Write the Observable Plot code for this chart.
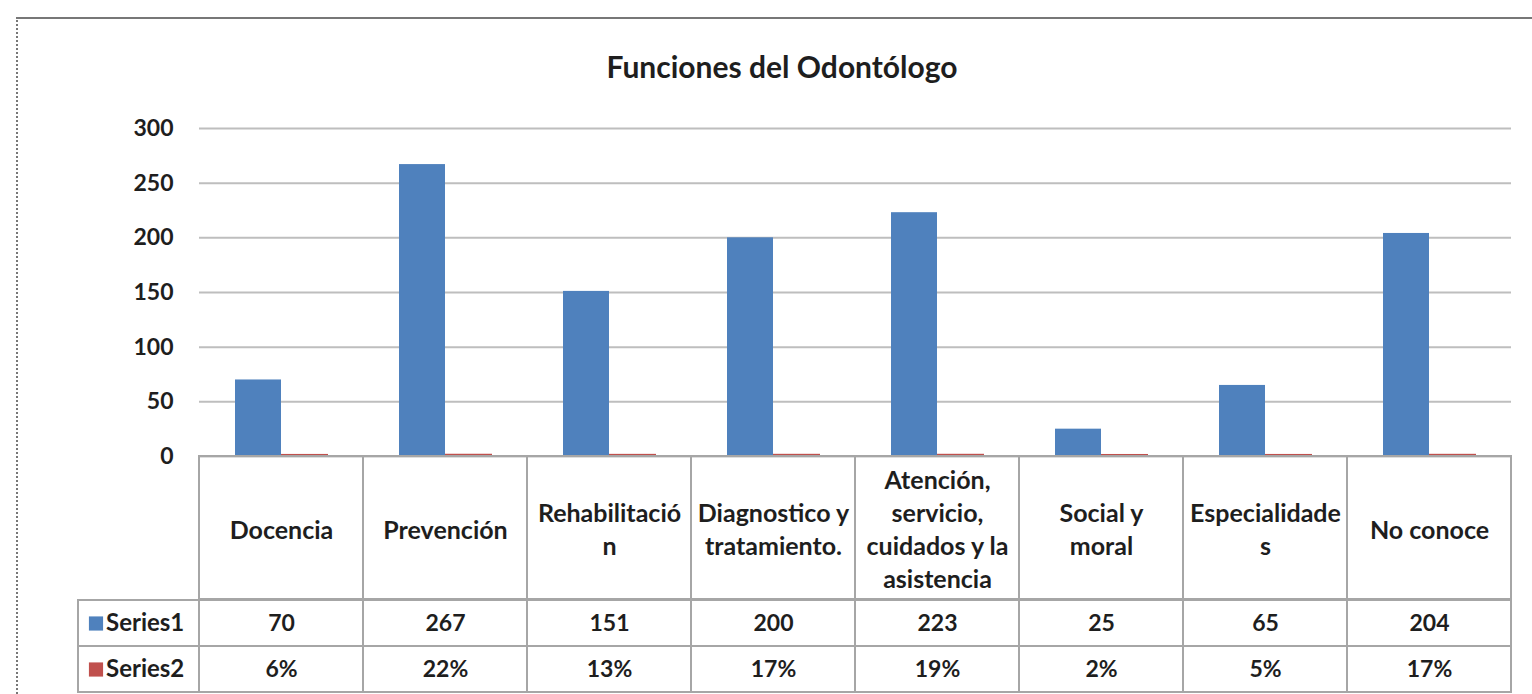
<!DOCTYPE html>
<html>
<head>
<meta charset="utf-8">
<script src="https://cdn.jsdelivr.net/npm/d3@7"></script>
<script src="https://cdn.jsdelivr.net/npm/@observablehq/plot@0.6"></script>
<style>
  html, body { margin: 0; padding: 0; background: #fff; }
  #wrap { position: relative; width: 1532px; height: 694px; overflow: hidden; font-family: Lato, "Open Sans", sans-serif; }
  #frame { position: absolute; left: 16px; top: 17px; width: 1530px; height: 700px; border-top: 2px solid #777; border-left: 2px dotted #777; box-sizing: border-box; }
  #title { position: absolute; left: 32px; width: 1500px; top: 48px; text-align: center; font-size: 30px; font-weight: bold; color: #1e1e1e; }
  .layer { position: absolute; left: 0; top: 0; }
</style>
</head>
<body>
<div id="wrap">
  <div id="frame"></div>
  <div id="title">Funciones del Odontólogo</div>
</div>
<script>
// ---- data ----
const categories = ["Docencia", "Prevención", "Rehabilitación", "Diagnostico y tratamiento.", "Atención, servicio, cuidados y la asistencia", "Social y moral", "Especialidades", "No conoce"];
const categoryLabels = ["Docencia", "Prevención", "Rehabilitació\nn", "Diagnostico y\ntratamiento.", "Atención,\nservicio,\ncuidados y la\nasistencia", "Social y\nmoral", "Especialidade\ns", "No conoce"];
const series1 = [70, 267, 151, 200, 223, 25, 65, 204];
const series2 = [0.06, 0.22, 0.13, 0.17, 0.19, 0.02, 0.05, 0.17];
const seriesNames = ["Series1", "Series2"];
const seriesColors = ["#4F81BD", "#C0504D"];
const yTicks = [0, 50, 100, 150, 200, 250, 300];

// ---- derived tables ----
const rows1 = categories.map((c, i) => ({cat: c, label: categoryLabels[i], v: series1[i]}));
const rows2 = categories.map((c, i) => ({cat: c, v: series2[i]}));
const tableCells = [
  ...categories.map((c, i) => ({cat: c, row: seriesNames[0], text: String(series1[i])})),
  ...categories.map((c, i) => ({cat: c, row: seriesNames[1], text: d3.format(".0%")(series2[i])}))
];
const legendRows = seriesNames.map((s, i) => ({row: s, color: seriesColors[i]}));

const W = 1532, H = 694;
const font = {fontFamily: "Lato, 'Open Sans', sans-serif", fontWeight: "bold", color: "#1e1e1e", background: "transparent"};
const gridColor = "#BEBEBE";
const tableColor = "#A6A6A6";
const wrap = document.getElementById("wrap");
function add(p) { p.classList.add("layer"); wrap.appendChild(p); }

// ---- main chart ----
add(Plot.plot({
  width: W, height: H,
  marginLeft: 199, marginRight: 21, marginTop: 128, marginBottom: H - 456,
  style: {...font, fontSize: "23px"},
  x: {type: "band", domain: categories, padding: 0, axis: null},
  y: {domain: [0, 300]},
  marks: [
    Plot.ruleY(yTicks, {stroke: gridColor, strokeWidth: 2}),
    Plot.axisY({ticks: yTicks, tickSize: 0, tickPadding: 26, label: null, fontSize: 23}),
    Plot.ruleX([categories[0]], {x: categories[0], stroke: gridColor, strokeWidth: 2, insetTop: -1, dx: -82}),
    Plot.barY(rows1, {x: "cat", y: "v", fill: seriesColors[0], insetLeft: 36, insetRight: 82}),
    Plot.barY(rows2, {x: "cat", y: "v", fill: seriesColors[1], insetLeft: 82, insetRight: 35, insetTop: -2, insetBottom: 0.5})
  ]
}));

// ---- category label row of the data table ----
add(Plot.plot({
  width: W, height: H,
  marginLeft: 199, marginRight: 21, marginTop: 456, marginBottom: H - 599,
  style: {...font, fontSize: "25px"},
  x: {type: "band", domain: categories, padding: 0, axis: null},
  marks: [
    Plot.cell(rows1, {x: "cat", fill: "none", stroke: tableColor, strokeWidth: 2}),
    Plot.text(rows1, {x: "cat", text: "label", lineHeight: 1.32, fill: "#1e1e1e"})
  ]
}));

// ---- value rows of the data table ----
add(Plot.plot({
  width: W, height: H,
  marginLeft: 199, marginRight: 21, marginTop: 599, marginBottom: H - 692,
  style: {...font, fontSize: "23px"},
  x: {type: "band", domain: categories, padding: 0, axis: null},
  y: {type: "band", domain: seriesNames, padding: 0, axis: null},
  marks: [
    Plot.cell(tableCells, {x: "cat", y: "row", fill: "none", stroke: tableColor, strokeWidth: 2}),
    Plot.text(tableCells, {x: "cat", y: "row", text: "text", fill: "#1e1e1e"})
  ]
}));

// ---- legend column of the data table ----
add(Plot.plot({
  width: W, height: H,
  marginLeft: 78, marginRight: W - 199, marginTop: 599, marginBottom: H - 692,
  style: {...font, fontSize: "24px"},
  y: {type: "band", domain: seriesNames, padding: 0, axis: null},
  marks: [
    Plot.cell(legendRows, {y: "row", fill: "none", stroke: tableColor, strokeWidth: 2}),
    Plot.dot(legendRows, {y: "row", symbol: "square", r: 8, fill: "color", dx: -43}),
    Plot.text(legendRows, {y: "row", text: "row", textAnchor: "start", dx: -33, fill: "#1e1e1e"})
  ]
}));
</script>
</body>
</html>
